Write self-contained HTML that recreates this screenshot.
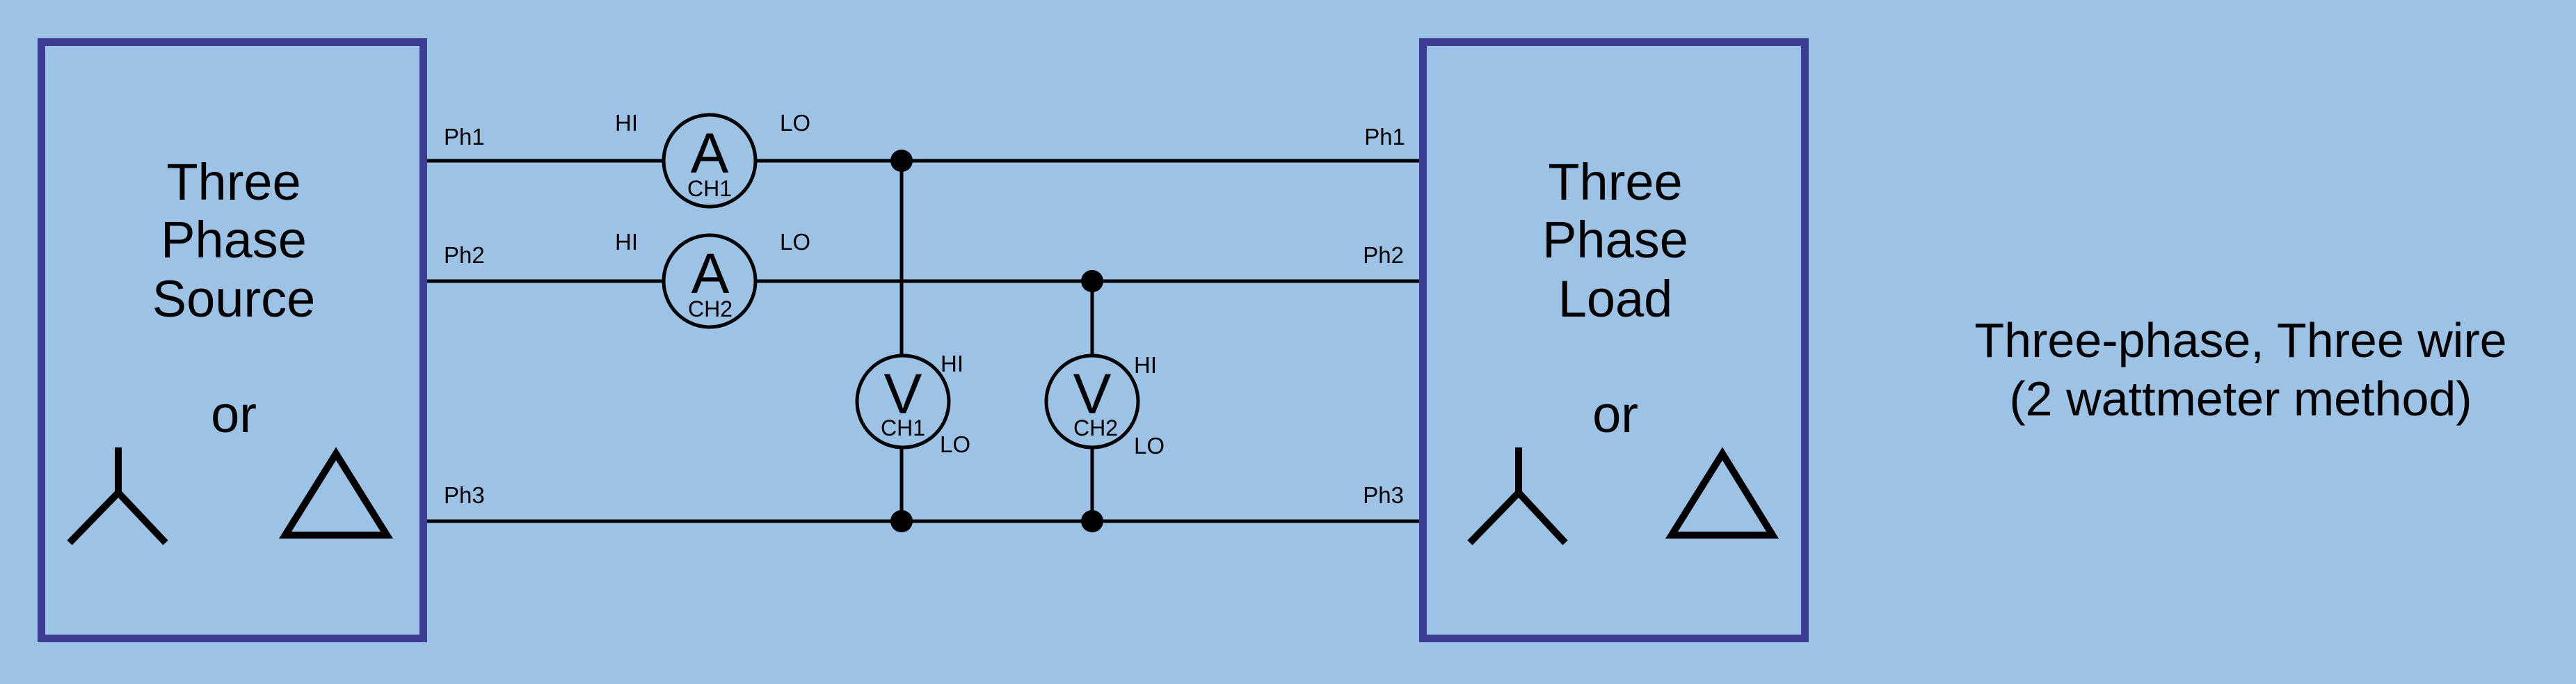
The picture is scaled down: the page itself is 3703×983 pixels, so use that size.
<!DOCTYPE html>
<html><head><meta charset="utf-8"><style>
html,body{margin:0;padding:0;background:#9cc2e6;}
svg{display:block;}
text{font-family:"Liberation Sans",Arial,sans-serif;fill:#000;}
</style></head><body>
<svg width="3703" height="983" viewBox="0 0 3703 983" xmlns="http://www.w3.org/2000/svg">
<rect width="3703" height="983" fill="#9cc2e6"/>
<!-- boxes -->
<rect x="59.5" y="60.5" width="549" height="857" fill="none" stroke="#3d3d94" stroke-width="11"/>
<rect x="2045.5" y="60.5" width="549" height="857" fill="none" stroke="#3d3d94" stroke-width="11"/>
<!-- wires -->
<g stroke="#000" stroke-width="5" fill="none">
<line x1="614" y1="231" x2="954" y2="231"/>
<line x1="1086" y1="231" x2="2040" y2="231"/>
<line x1="614" y1="404" x2="954" y2="404"/>
<line x1="1086" y1="404" x2="2040" y2="404"/>
<line x1="614" y1="749" x2="2040" y2="749"/>
<line x1="1296" y1="231" x2="1296" y2="510"/>
<line x1="1296" y1="644" x2="1296" y2="749"/>
<line x1="1570" y1="404" x2="1570" y2="510"/>
<line x1="1570" y1="644" x2="1570" y2="749"/>
<circle cx="1020" cy="231" r="66"/>
<circle cx="1020" cy="404" r="66"/>
<circle cx="1298" cy="577" r="66"/>
<circle cx="1570" cy="577" r="66"/>
</g>
<g fill="#000">
<circle cx="1296" cy="231" r="16"/>
<circle cx="1570" cy="404" r="16"/>
<circle cx="1296" cy="749" r="16"/>
<circle cx="1570" cy="749" r="16"/>
</g>
<!-- symbols -->
<g stroke="#000" stroke-width="10" fill="none">
<polyline points="100,780 170,708 238,780"/>
<line x1="170" y1="643" x2="170" y2="710"/>
<polygon points="483,652 410,769 556,769" stroke-linejoin="miter"/>
<polyline points="2113,780 2183,708 2250,780"/>
<line x1="2183" y1="643" x2="2183" y2="710"/>
<polygon points="2476,652 2403,769 2548,769"/>
</g>
<!-- meter text -->
<g text-anchor="middle">
<text x="1020" y="248" font-size="82">A</text>
<text x="1020" y="282" font-size="32">CH1</text>
<text x="1021" y="421" font-size="82">A</text>
<text x="1021" y="455" font-size="32">CH2</text>
<text x="1298" y="594" font-size="82">V</text>
<text x="1298" y="626" font-size="32">CH1</text>
<text x="1570" y="594" font-size="82">V</text>
<text x="1575" y="626" font-size="32">CH2</text>
</g>
<g font-size="33">
<text x="884" y="188">HI</text>
<text x="1121" y="188">LO</text>
<text x="884" y="359">HI</text>
<text x="1121" y="359">LO</text>
<text x="1352" y="534">HI</text>
<text x="1351" y="650">LO</text>
<text x="1630" y="536">HI</text>
<text x="1630" y="652">LO</text>
<text x="638" y="208">Ph1</text>
<text x="638" y="378">Ph2</text>
<text x="638" y="723">Ph3</text>
</g>
<g font-size="33" text-anchor="end">
<text x="2020" y="208">Ph1</text>
<text x="2018" y="378">Ph2</text>
<text x="2018" y="723">Ph3</text>
</g>
<!-- box labels -->
<g font-size="74" text-anchor="middle">
<text x="336" y="287">Three</text>
<text x="336" y="370">Phase</text>
<text x="336" y="455">Source</text>
<text x="336" y="621">or</text>
<text x="2322" y="287">Three</text>
<text x="2322" y="370">Phase</text>
<text x="2322" y="455">Load</text>
<text x="2322" y="621">or</text>
<text x="3221" y="513" font-size="70">Three-phase, Three wire</text>
<text x="3221" y="597" font-size="70">(2 wattmeter method)</text>
</g>
</svg>
</body></html>
